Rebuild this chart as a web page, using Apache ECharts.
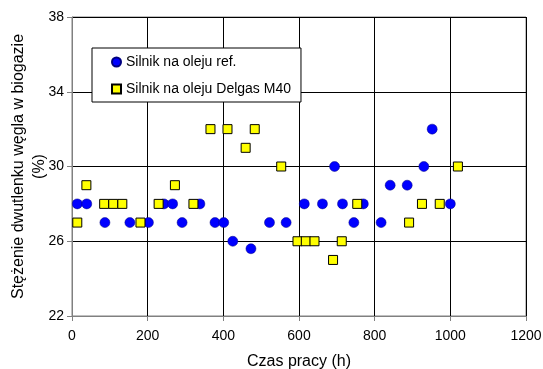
<!DOCTYPE html>
<html><head><meta charset="utf-8">
<script src="https://cdn.jsdelivr.net/npm/echarts@6/dist/echarts.min.js"></script>
<style>html,body{margin:0;padding:0;background:#fff}#c{width:543px;height:369px}</style>
</head><body><div id="c"></div>
<script>
const refHours = [14,39,87,153,202,243,266,291,338,378,401,425,473,522,566,614,662,694,715,745,770,817,841,886,930,952,1000];
const refCO2   = [28,28,27,27,27,28,28,27,28,27,27,26,25.6,27,27,28,28,30,28,27,28,27,29,29,30,32,28];
const delHours = [14,38,85,109,133,181,229,272,321,366,411,459,483,553,596,618,641,690,713,754,891,925,972,1020];
const delCO2   = [27,29,28,28,28,27,28,29,28,32,32,31,32,30,26,26,26,25,26,28,27,28,28,30];
const seriesNames = ['Silnik na oleju ref.', 'Silnik na oleju Delgas M40'];
const xTitle = 'Czas pracy (h)';
const yTitle = 'Stężenie dwutlenku węgla w biogazie\n(%)';

const font = 'Liberation Sans, Arial, sans-serif';
const chart = echarts.init(document.getElementById('c'));
chart.setOption({
  animation: false,
  textStyle: {fontFamily: font},
  grid: {left: 72, right: 17, top: 17, bottom: 53, outerBoundsMode: 'none', containLabel: false,
         show: true, borderColor: '#808080', borderWidth: 1},
  legend: {
    left: 92, top: 48, width: 219, height: 52,
    orient: 'vertical',
    backgroundColor: '#fff', borderColor: '#000', borderWidth: 1,
    padding: [7, 10, 6, 19], itemGap: 13,
    itemWidth: 9, itemHeight: 9,
    textStyle: {fontFamily: font, fontSize: 14, color: '#000'},
    data: seriesNames
  },
  xAxis: {
    type: 'value', min: 0, max: 1200, interval: 200,
    name: xTitle, nameLocation: 'middle', nameGap: 38, nameMoveOverlap: false,
    nameTextStyle: {fontFamily: font, fontSize: 16, color: '#000'},
    axisLine: {lineStyle: {color: '#808080'}},
    axisTick: {show: true, inside: false, length: 5, lineStyle: {color: '#808080'}},
    axisLabel: {fontFamily: font, fontSize: 14, color: '#000', margin: 13, formatter: v => String(v)},
    splitLine: {show: true, lineStyle: {color: '#000', width: 1}}
  },
  yAxis: {
    type: 'value', min: 22, max: 38, interval: 4,
    name: yTitle, nameLocation: 'middle', nameGap: 21.5, nameRotate: 90, nameMoveOverlap: false,
    nameTextStyle: {fontFamily: font, fontSize: 16, color: '#000', lineHeight: 21},
    axisLine: {show: true, lineStyle: {color: '#808080'}},
    axisTick: {show: true, inside: false, length: 5, lineStyle: {color: '#808080'}},
    axisLabel: {fontFamily: font, fontSize: 14, color: '#000', margin: 8},
    splitLine: {show: true, lineStyle: {color: '#000', width: 1}}
  },
  series: [
    {
      name: seriesNames[0], type: 'scatter', symbol: 'circle', symbolSize: 10,
      itemStyle: {color: '#0000ff', borderColor: '#000080', borderWidth: 0.5, opacity: 1},
      data: refHours.map((h, i) => [h, refCO2[i]])
    },
    {
      name: seriesNames[1], type: 'scatter', symbol: 'rect', symbolSize: 9,
      itemStyle: {color: '#ffff00', borderColor: '#000', borderWidth: 1, opacity: 1},
      data: delHours.map((h, i) => [h, delCO2[i]])
    }
  ]
});
</script></body></html>
